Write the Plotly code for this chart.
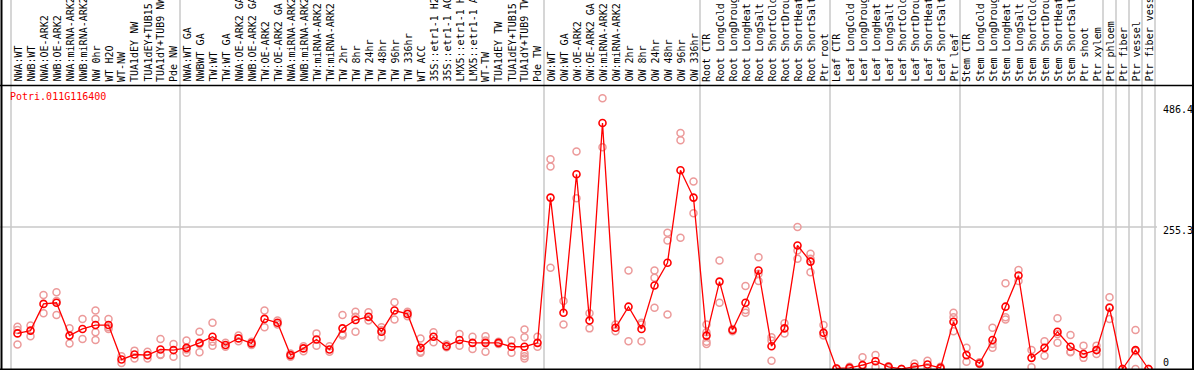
import plotly.graph_objects as go

W, H = 1194, 370

gene = "Potri.011G116400"

labels = [
    "NWA:WT", "NWB:WT", "NWA:OE-ARK2", "NWB:OE-ARK2", "NWA:miRNA-ARK2", "NWB:miRNA-ARK2",
    "NW 0hr", "WT H2O", "WT-NW", "TUA1dEY NW", "TUA1dEY+TUB15", "TUA1dY+TUB9 NW", "Pde NW",
    "NWA:WT GA", "NWBWT GA", "TW:WT", "TW:WT GA", "NWA:OE-ARK2 GA", "NWB:OE-ARK2 GA",
    "TW:OE-ARK2", "TW:OE-ARK2 GA", "NWA:miRNA-ARK2", "NWB:miRNA-ARK2", "TW:miRNA-ARK2",
    "TW:miRNA-ARK2", "TW 2hr", "TW 8hr", "TW 24hr", "TW 48hr", "TW 96hr", "TW 336hr",
    "WT ACC", "35S::etr1-1 H2O", "35S::etr1-1 ACC", "LMX5::etr1-1 H2O", "LMX5::etr1-1 ACC",
    "WT-TW", "TUA1dEY TW", "TUA1dEY+TUB15", "TUA1dY+TUB9 TW", "Pde TW",
    "OW:WT", "OW:WT GA", "OW:OE-ARK2", "OW:OE-ARK2 GA", "OW:miRNA-ARK2", "OW:miRNA-ARK2",
    "OW 2hr", "OW 8hr", "OW 24hr", "OW 48hr", "OW 96hr", "OW 336hr",
    "Root CTR", "Root LongCold", "Root LongDrought", "Root LongHeat", "Root LongSalt",
    "Root ShortCold", "Root ShortDrought", "Root ShortHeat", "Root ShortSalt", "Ptr root",
    "Leaf CTR", "Leaf LongCold", "Leaf LongDrought", "Leaf LongHeat", "Leaf LongSalt",
    "Leaf ShortCold", "Leaf ShortDrought", "Leaf ShortHeat", "Leaf ShortSalt", "Ptr leaf",
    "Stem CTR", "Stem LongCold", "Stem LongDrought", "Stem LongHeat", "Stem LongSalt",
    "Stem ShortCold", "Stem ShortDrought", "Stem ShortHeat", "Stem ShortSalt", "Ptr shoot",
    "Ptr xylem", "Ptr phloem", "Ptr fiber", "Ptr vessel", "Ptr fiber vessel",
]

means = [
    64, 69, 117, 119, 60, 72, 79, 79, 17, 26, 25, 35, 34,
    38, 47, 58, 43, 55, 46, 90, 83, 25, 37, 53, 35, 73, 88, 94, 67, 105, 99,
    38, 58, 41, 52, 47, 47, 47, 40, 40, 47,
    308, 101, 350, 87, 442, 74, 112, 72, 150, 191, 357, 308,
    60, 157, 70, 119, 177, 41, 73, 222, 193, 65,
    1, 2, 7, 14, 4, 0, 4, 8, 2, 85,
    25, 10, 52, 112, 168, 20, 38, 67, 40, 27, 34,
    110, 0, 34, 0,
]

replicates = [
    [76, 44, 70], [78, 59], [133, 100], [138, 97, 122], [46, 73], [90, 54],
    [105, 90, 66, 52], [90, 72, 75], [11, 23], [33, 19], [31, 19], [54, 25, 26], [45, 22],
    [51, 29, 35], [67, 30, 45], [83, 42, 49], [47, 40], [60, 50], [49, 43],
    [105, 75], [87, 80], [28, 22], [41, 32], [64, 42], [41, 31], [97, 60, 63],
    [103, 67, 94], [102, 87, 93], [75, 57, 70], [120, 89], [103, 95],
    [55, 31, 29], [66, 48], [44, 39], [63, 42], [58, 36], [59, 31, 51], [49, 45],
    [51, 29], [71, 57, 28, 23, 19], [58, 40],
    [377, 364, 182], [122, 80], [391, 307], [100, 73], [486.4, 398.6], [80, 68],
    [177, 50], [83, 50, 80], [177, 164, 110], [245, 231, 98], [424, 411, 236], [337, 280],
    [80, 49, 45, 66], [195, 119], [68, 72], [149, 106, 101], [201, 158, 171],
    [57, 15, 51], [82, 64], [255, 198, 213], [207, 174, 198], [79, 60],
    [1, 0], [4, 0], [21, 1], [25, 3], [2, 5], [0, 0], [10, 0], [15, 3], [4, 1],
    [101, 93, 68],
    [38, 13], [12, 9], [74, 38, 45], [154, 93, 89], [178, 158], [34, 3], [50, 24],
    [91, 47, 63], [61, 30, 31], [42, 20], [42, 34, 27],
    [129, 90, 111], [0, 0], [70, 0, 32], [0, 0],
]

# group boundaries (after these column indices)
group_breaks = [-0.5, 12.5, 40.5, 52.5, 62.5, 72.5, 83.5, 84.5, 85.5, 86.5, 87.5]

y_ticks = [486.4, 255.3, 0]

# ---- geometry helpers (pixel -> data / paper) ----
COL_W = 13.0
X0_PX = 11.0
def px_to_x(px):
    return (px - X0_PX) / COL_W - 0.5

Y_ZERO_PX = 369.0
Y_TOP_PX = 98.3
U_PER_PX = max(y_ticks) / (Y_ZERO_PX - Y_TOP_PX)
def py_to_y(py):
    return (Y_ZERO_PX - py) * U_PER_PX

def pyp(py):  # pixel y -> paper y
    return 1 - py / H

def pxp(px):
    return px / W

x_idx = list(range(len(labels)))
rx, ry = [], []
for i, reps in enumerate(replicates):
    for v in reps:
        rx.append(i)
        ry.append(v)

fig = go.Figure()
fig.add_trace(go.Scatter(
    x=rx, y=ry, mode="markers",
    marker=dict(symbol="circle-open", size=7, color="#ec9a9a", line=dict(width=1.5, color="#ec9a9a")),
    hoverinfo="skip", showlegend=False,
))
fig.add_trace(go.Scatter(
    x=x_idx, y=means, mode="lines+markers",
    line=dict(color="#ff0000", width=1.3),
    marker=dict(symbol="circle-open", size=7, color="#ff0000", line=dict(width=1.6, color="#ff0000")),
    showlegend=False,
))

shapes = []
gray = "#c8c8c8"
for b in group_breaks:
    shapes.append(dict(type="line", xref="x", yref="paper", x0=b, x1=b, y0=0, y1=1,
                       line=dict(color=gray, width=1.5), layer="below"))
# gridline at middle tick
shapes.append(dict(type="line", xref="paper", yref="y", x0=0, x1=pxp(1157), y0=y_ticks[1], y1=y_ticks[1],
                   line=dict(color=gray, width=1.5), layer="below"))
# black frame lines
shapes.append(dict(type="line", xref="paper", yref="paper", x0=0, x1=1, y0=pyp(85.5), y1=pyp(85.5),
                   line=dict(color="black", width=1.5)))
shapes.append(dict(type="line", xref="paper", yref="paper", x0=pxp(1.5), x1=pxp(1.5), y0=0, y1=1,
                   line=dict(color="black", width=2)))
shapes.append(dict(type="line", xref="paper", yref="paper", x0=pxp(1193), x1=pxp(1193), y0=0, y1=1,
                   line=dict(color="black", width=2)))
shapes.append(dict(type="line", xref="paper", yref="paper", x0=0, x1=1, y0=pyp(369.3), y1=pyp(369.3),
                   line=dict(color="black", width=1.5)))

mono = "DejaVu Sans Mono"
annotations = []
for i, lab in enumerate(labels):
    annotations.append(dict(
        x=i, y=pyp(84), xref="x", yref="paper", text=lab, textangle=-90,
        showarrow=False, xanchor="center", yanchor="bottom",
        font=dict(family=mono, size=10, color="black"),
    ))
annotations.append(dict(
    x=pxp(8), y=pyp(96.5), xref="paper", yref="paper", text=gene, showarrow=False,
    xanchor="left", yanchor="middle", font=dict(family=mono, size=10, color="#ff0000"),
))
tick_py = {486.4: 109, 255.3: 231, 0: 362}
for t in y_ticks:
    annotations.append(dict(
        x=pxp(1161), y=pyp(tick_py[t]), xref="paper", yref="paper", text=f"{t:g}",
        showarrow=False, xanchor="left", yanchor="middle",
        font=dict(family=mono, size=10, color="black"),
    ))

fig.update_layout(
    width=W, height=H, margin=dict(l=0, r=0, t=0, b=0),
    paper_bgcolor="white", plot_bgcolor="white",
    xaxis=dict(range=[px_to_x(0), px_to_x(W)], visible=False, showgrid=False, zeroline=False),
    yaxis=dict(range=[py_to_y(H), py_to_y(0)], visible=False, showgrid=False, zeroline=False),
    shapes=shapes, annotations=annotations, showlegend=False,
)

fig.write_html(
    "out.html",
    config={"displayModeBar": False},
    post_script="document.body.style.margin='0';document.body.style.overflow='hidden';",
)
